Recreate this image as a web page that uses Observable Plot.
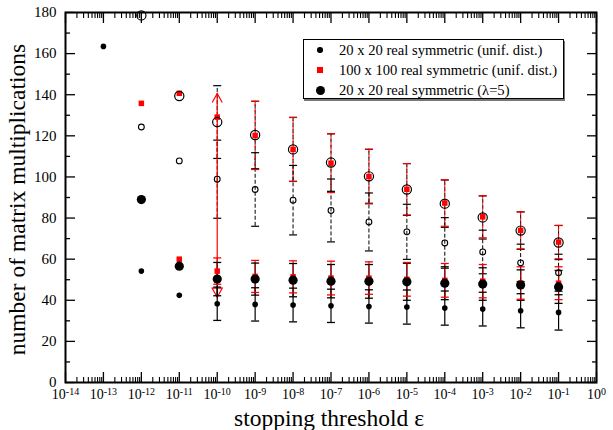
<!DOCTYPE html>
<html>
<head>
<meta charset="utf-8">
<script src="https://cdn.jsdelivr.net/npm/d3@7"></script>
<script src="https://cdn.jsdelivr.net/npm/@observablehq/plot@0.6"></script>
<style>
  body { margin: 0; background: #fff; }
  #wrap { position: relative; width: 613px; height: 430px; font-family: "Liberation Serif", serif; }
  #legend { position: absolute; left: 303px; top: 39px; width: 261px; height: 60px;
            border: 1px solid #000; background: #fff; box-shadow: 1px 2px 0 #777;
            font-size: 14.6px; color: #000; box-sizing: border-box; }
  .row { position: absolute; left: 0; height: 20px; line-height: 20px; white-space: nowrap; }
  .row .sym { position: absolute; display: block; }
  .row .lbl { position: absolute; left: 35px; top: 0; }
</style>
</head>
<body>
<div id="wrap"><div id="chart"></div><div id="legend"></div></div>
<script>
// ---- data ----
const exps = [-13, -12, -11, -10, -9, -8, -7, -6, -5, -4, -3, -2, -1];
// filled markers
const small20   = [163.5, 54.2, 42.4, 38.3, 38.0, 37.7, 37.3, 37.0, 36.7, 36.2, 35.7, 34.9, 34.1];
const small20Sd = [null, null, null, 8.1, 8.1, 8.2, 8.1, 8.1, 8.3, 8.3, 8.2, 8.3, 8.6];
const red100    = [null, null, 60.0, 54.2, 51.6, 51.4, 50.8, 50.8, 50.2, 49.7, 49.3, 48.4, 48.3];
const red100Sd  = [null, null, null, 6.4, 7.8, 7.8, 8.2, 7.9, 8.2, 8.2, 8.1, 7.9, 8.0];
const lam5      = [null, 89.0, 56.6, 50.3, 50.3, 49.8, 49.3, 49.2, 49.0, 48.3, 47.9, 47.4, 46.5];
const lam5Sd    = [null, null, null, 8.1, 7.8, 8.1, 8.1, 8.2, 9.0, 8.0, 7.9, 7.4, 8.0];
// open markers (upper group)
const small20Open   = [null, 124.3, 107.8, 98.9, 93.9, 88.7, 83.7, 78.1, 73.3, 67.9, 63.5, 58.2, 53.4];
const small20OpenSd = [null, null, null, 19.0, 17.9, 16.9, 15.3, 14.1, 13.4, 12.3, 10.6, 9.1, 9.0];
const red100Open    = [null, 135.8, 140.7, 129.1, 120.2, 113.4, 106.7, 100.2, 94.0, 87.3, 80.6, 74.0, 68.3];
const red100OpenSd  = [null, null, null, null, 16.6, 15.5, 14.3, 13.3, 12.5, 11.3, 10.2, 9.0, 8.1];
const lam5Open      = [null, 178.6, 139.4, 126.7, 120.4, 113.4, 107.0, 100.3, 93.9, 87.0, 80.3, 73.9, 68.1];
const lam5OpenSd    = [null, null, null, 17.7, 16.4, 15.6, 14.0, 13.1, 12.6, 11.5, 10.5, 9.1, 8.3];
// red range with arrow heads
const arrowExp = [-10];
const arrowLo  = [41.5];
const arrowHi  = [140.6];
// ticks
const xDecades = [-14, -13, -12, -11, -10, -9, -8, -7, -6, -5, -4, -3, -2, -1, 0];
const yMajor = [0, 20, 40, 60, 80, 100, 120, 140, 160, 180];
const yMinor = [10, 30, 50, 70, 90, 110, 130, 150, 170];
const legendLabels = ["20 x 20 real symmetric (unif. dist.)", "100 x 100 real symmetric (unif. dist.)", "20 x 20 real symmetric (λ=5)"];
const xTitle = "stopping threshold ε";
const yTitle = "number of matrix multiplications";

// ---- helpers ----
const pts = (vals) => exps.map((e, i) => ({x: Math.pow(10, e), y: vals[i]})).filter(d => d.y != null);
const bars = (vals, sds) => exps.map((e, i) => ({x: Math.pow(10, e), lo: vals[i] - sds[i], hi: vals[i] + sds[i], ok: vals[i] != null && sds[i] != null})).filter(d => d.ok);
const capRows = (b) => b.flatMap(d => [{x: d.x, y: d.lo}, {x: d.x, y: d.hi}]);
const capSym = {draw(ctx, size) { const w = Math.sqrt(size / Math.PI); ctx.moveTo(-w, 0); ctx.lineTo(w, 0); }};
const upSym = {draw(ctx, size) { const w = Math.sqrt(size / Math.PI); ctx.moveTo(-w, w * 1.8); ctx.lineTo(0, 0); ctx.lineTo(w, w * 1.8); }};
const downSym = {draw(ctx, size) { const w = Math.sqrt(size / Math.PI); ctx.moveTo(-w, -w * 1.8); ctx.lineTo(0, 0); ctx.lineTo(w, -w * 1.8); ctx.closePath(); }};

const xMajor = xDecades.map(e => Math.pow(10, e));
const xMinor = xDecades.slice(0, -1).flatMap(e => [2, 3, 4, 5, 6, 7, 8, 9].map(m => m * Math.pow(10, e)));

const bSmall = bars(small20, small20Sd), bRed = bars(red100, red100Sd), bLam = bars(lam5, lam5Sd);
const bSmallO = bars(small20Open, small20OpenSd), bRedO = bars(red100Open, red100OpenSd), bLamO = bars(lam5Open, lam5OpenSd);
const arrows = arrowExp.map((e, i) => ({x: Math.pow(10, e), lo: arrowLo[i], hi: arrowHi[i]}));

const dash = "4,2";
const chart = Plot.plot({
  width: 613, height: 430,
  marginLeft: 65, marginRight: 17, marginTop: 12, marginBottom: 48,
  x: {type: "log", domain: [1e-14, 1]},
  y: {domain: [0, 180]},
  style: {fontFamily: "Liberation Serif, serif", fontSize: "15px", color: "#000", background: "#fff"},
  marks: [
    // axes ticks (inward)
    Plot.axisY(yMajor, {anchor: "left", tickSize: -10, fill: "none", label: null, strokeWidth: 1.3}),
    Plot.axisY(yMinor, {anchor: "left", tickSize: -5, fill: "none", label: null, strokeWidth: 1.3}),
    Plot.axisY(yMajor, {anchor: "right", tickSize: -10, fill: "none", label: null, strokeWidth: 1.3}),
    Plot.axisY(yMinor, {anchor: "right", tickSize: -5, fill: "none", label: null, strokeWidth: 1.3}),
    Plot.axisX(xMajor, {anchor: "bottom", tickSize: -10, fill: "none", label: null, strokeWidth: 1.3}),
    Plot.axisX(xMinor, {anchor: "bottom", tickSize: -5, fill: "none", label: null, strokeWidth: 1.1}),
    Plot.axisX(xMajor, {anchor: "top", tickSize: -10, fill: "none", label: null, strokeWidth: 1.3}),
    Plot.axisX(xMinor, {anchor: "top", tickSize: -5, fill: "none", label: null, strokeWidth: 1.1}),
    // tick labels
    Plot.axisY(yMajor, {anchor: "left", tickSize: 0, tickPadding: 9, label: null, fontSize: 15}),
    Plot.axisX(xMajor, {anchor: "bottom", tickSize: 0, tickPadding: 7, label: null, fontSize: 14,
                        tickFormat: d => String(Math.round(Math.log10(d)))}),
    // titles
    Plot.text([yTitle], {frameAnchor: "left", textAnchor: "middle", lineAnchor: "middle", rotate: -90, dx: -48, dy: 2, fontSize: 23.5}),
    Plot.text([xTitle], {frameAnchor: "bottom", textAnchor: "middle", lineAnchor: "middle", dy: 36, dx: -2, fontSize: 23.5}),
    Plot.frame({stroke: "#000", strokeWidth: 2}),
    // dashed error bars (open markers)
    Plot.ruleX(bLamO, {x: "x", y1: "lo", y2: "hi", stroke: "#000", strokeDasharray: dash}),
    Plot.ruleX(bSmallO, {x: "x", y1: "lo", y2: "hi", stroke: "#000", strokeDasharray: dash}),
    Plot.ruleX(bRedO, {x: "x", y1: "lo", y2: "hi", stroke: "red", strokeDasharray: dash, strokeDashoffset: 3}),
    Plot.dot(capRows(bLamO), {x: "x", y: "y", symbol: capSym, r: 4, stroke: "#000", strokeWidth: 1.2}),
    Plot.dot(capRows(bSmallO), {x: "x", y: "y", symbol: capSym, r: 4, stroke: "#000", strokeWidth: 1.2}),
    Plot.dot(capRows(bRedO), {x: "x", y: "y", symbol: capSym, r: 4, stroke: "red", strokeWidth: 1.2}),
    // red range with arrow heads
    Plot.ruleX(arrows, {x: "x", y1: "lo", y2: "hi", stroke: "red", strokeWidth: 1.2}),
    Plot.dot(arrows, {x: "x", y: "hi", symbol: upSym, r: 5, stroke: "red", fill: "none", strokeWidth: 1.2}),
    Plot.dot(arrows, {x: "x", y: "lo", symbol: downSym, r: 5, stroke: "red", fill: "none", strokeWidth: 1.2}),
    // solid error bars (filled markers)
    Plot.ruleX(bSmall, {x: "x", y1: "lo", y2: "hi", stroke: "#000", strokeWidth: 1.2}),
    Plot.ruleX(bLam, {x: "x", y1: "lo", y2: "hi", stroke: "#000", strokeWidth: 1.2}),
    Plot.ruleX(bRed, {x: "x", y1: "lo", y2: "hi", stroke: "#c00", strokeWidth: 1.2, strokeOpacity: 0.8}),
    Plot.dot(capRows(bSmall), {x: "x", y: "y", symbol: capSym, r: 4, stroke: "#000", strokeWidth: 1.3}),
    Plot.dot(capRows(bLam), {x: "x", y: "y", symbol: capSym, r: 4, stroke: "#000", strokeWidth: 1.3}),
    Plot.dot(capRows(bRed), {x: "x", y: "y", symbol: capSym, r: 4, stroke: "red", strokeWidth: 1.3}),
    // markers
    Plot.dot(pts(red100Open), {x: "x", y: "y", symbol: "square", r: 3.1, fill: "red"}),
    Plot.dot(pts(lam5Open), {x: "x", y: "y", r: 4.6, stroke: "#000", fill: "none", strokeWidth: 1.2}),
    Plot.dot(pts(small20Open), {x: "x", y: "y", r: 2.9, stroke: "#000", fill: "none", strokeWidth: 1.1}),
    Plot.dot(pts(red100), {x: "x", y: "y", symbol: "square", r: 3.1, fill: "red"}),
    Plot.dot(pts(lam5), {x: "x", y: "y", r: 4.6, fill: "#000"}),
    Plot.dot(pts(small20), {x: "x", y: "y", r: 2.8, fill: "#000"})
  ]
});
document.getElementById("chart").appendChild(chart);

// superscript exponents in x tick labels
d3.select(chart).selectAll('g[aria-label="x-axis tick label"] text').each(function() {
  const exp = this.textContent;
  const t = d3.select(this);
  t.text(null);
  t.append("tspan").text("10");
  t.append("tspan").attr("dy", "-0.45em").attr("font-size", "10px").text(exp);
});

// legend (HTML overlay)
const legend = d3.select("#legend");
const syms = [
  {w: 5.5, h: 5.5, r: "50%", c: "#000"},
  {w: 5.5, h: 5.5, r: "0", c: "red"},
  {w: 9, h: 9, r: "50%", c: "#000"}
];
legendLabels.forEach((lab, i) => {
  const row = legend.append("div").attr("class", "row").style("top", (i * 20) + "px").style("width", "100%");
  const s = syms[i];
  row.append("span").attr("class", "sym")
    .style("left", (16 - s.w / 2) + "px").style("top", (10 - s.h / 2) + "px")
    .style("width", s.w + "px").style("height", s.h + "px")
    .style("border-radius", s.r).style("background", s.c);
  row.append("span").attr("class", "lbl").text(lab);
});
</script>
</body>
</html>
